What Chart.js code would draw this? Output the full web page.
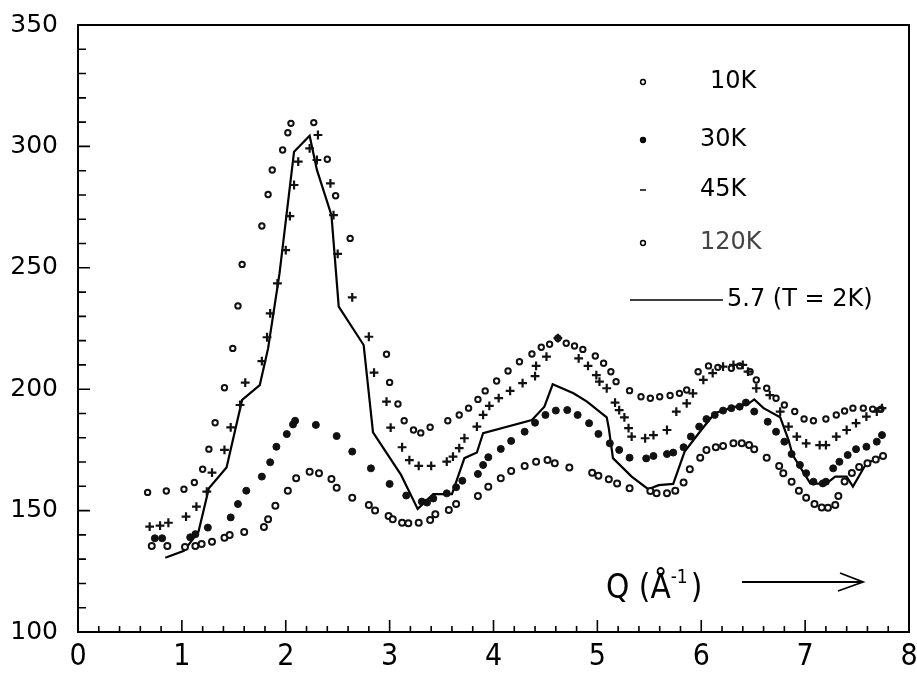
<!DOCTYPE html>
<html lang="en">
<head>
<meta charset="UTF-8">
<title>S(Q) scans</title>
<script src="https://cdn.jsdelivr.net/npm/chart.js"></script>
<style>
  html, body { margin: 0; padding: 0; background: #fff; }
  #wrap { width: 917px; height: 675px; }
</style>
</head>
<body>
<div id="wrap"><canvas id="sq-chart"></canvas></div>
<script>
// measured scans, Q in 1/A
const q10 = [0.71,0.86,1.03,1.13,1.19,1.29,1.41,1.46,1.60,1.79,1.83,1.90,2.02,2.10,2.23,2.32,2.44,2.49,2.64,2.80,2.86,2.99,3.03,3.12,3.18,3.28,3.39,3.44,3.57,3.64,3.85,3.95,4.07,4.17,4.30,4.41,4.52,4.59,4.73,4.95,5.01,5.11,5.19,5.31,5.51,5.57,5.67,5.75,5.83,5.89,5.99,6.05,6.14,6.21,6.31,6.39,6.46,6.51,6.63,6.75,6.79,6.87,6.94,7.01,7.09,7.16,7.22,7.29,7.32,7.38,7.45,7.52,7.60,7.68,7.75];
const s10 = [135.4,135.4,135,135.4,136.2,137.2,138.8,140,141.2,143.2,146.4,152,158.2,163.3,166,165.4,163,159.4,155.3,152.3,150,147.8,146.4,145,144.8,145,146.1,148.5,150.2,152.7,156,159.8,163.3,166.3,168.4,170.1,170.8,169.5,167.7,165.6,164.4,162.9,161.2,159.2,158.1,157.1,157.1,158.2,161.6,167,171.8,175,176.1,176.6,177.7,177.7,177,175.3,171.8,168.4,165.4,161.9,158.2,155.3,152.7,151.3,151.2,152.3,156,162,165.5,168,169.5,171,172.5];

const q30 = [0.74,0.81,1.08,1.13,1.25,1.47,1.54,1.62,1.77,1.85,1.91,2.01,2.07,2.09,2.29,2.49,2.64,2.82,3.00,3.16,3.31,3.36,3.42,3.55,3.64,3.70,3.85,3.90,3.95,4.07,4.17,4.30,4.40,4.50,4.60,4.71,4.81,4.92,5.01,5.12,5.21,5.31,5.47,5.54,5.67,5.73,5.83,5.90,5.98,6.05,6.13,6.21,6.29,6.37,6.43,6.51,6.64,6.72,6.80,6.87,6.95,7.01,7.08,7.17,7.20,7.27,7.33,7.41,7.49,7.59,7.69,7.74];
const s30 = [138.6,138.6,139,140.3,143,147.2,152.7,158.2,164,169.9,176.3,181.5,185.5,187,185.3,180.7,174.3,167.4,161,156.2,153.7,153.3,155,157.1,159.6,162.3,165.1,168.8,172,175.4,178.7,182.5,186.2,189.4,191.2,191.4,189.4,186,181.6,177.7,175,171.8,171.5,172.5,173.3,173.9,176.1,180.5,184.6,187.7,189.4,191.2,192.2,192.8,194.5,190.8,186.6,182.5,178.4,173.3,168.8,165.4,161.9,161.2,161.9,167.4,170.1,172.9,175.3,176.3,178.4,181.1];

const q45 = [0.69,0.79,0.87,1.04,1.14,1.24,1.29,1.41,1.47,1.56,1.61,1.77,1.82,1.85,1.92,2.00,2.04,2.08,2.12,2.23,2.31,2.30,2.43,2.46,2.50,2.64,2.80,2.85,2.97,3.01,3.12,3.19,3.28,3.40,3.55,3.61,3.67,3.72,3.84,3.90,3.96,4.05,4.16,4.28,4.40,4.41,4.51,4.62,4.82,4.91,4.99,5.02,5.09,5.17,5.21,5.26,5.30,5.33,5.46,5.54,5.67,5.76,5.86,5.92,6.02,6.11,6.21,6.31,6.40,6.45,6.53,6.66,6.76,6.84,6.92,7.01,7.14,7.20,7.30,7.40,7.49,7.59,7.69,7.74];
const s45 = [143.4,143.8,145,147.5,151.6,157.8,165.6,175,184.3,193.5,202.7,211.6,221.4,231.2,243.6,257.3,271.3,284.1,293.7,299.2,304.7,294.4,284.8,271.7,255.7,237.8,221.6,206.8,194.9,184.2,176.1,170.8,168.4,168.4,170.2,172.2,175.7,179.8,184.6,189.4,193.1,196.3,199.3,202.5,205.4,209.6,213.4,221,212.7,209.6,205.8,203.1,200.4,194.5,191.4,188.4,184,180.5,179.8,181.1,183.2,190.8,194.2,198.3,203.8,206.6,209.3,210,210,207.2,200.4,197.6,190.8,184.6,180.5,177.7,177,177,180.5,183.2,186,188.7,190.8,192.2];

const q120 = [0.67,0.85,1.02,1.12,1.20,1.26,1.32,1.41,1.49,1.54,1.58,1.77,1.83,1.87,1.97,2.02,2.05,2.27,2.40,2.48,2.62,2.97,3.00,3.08,3.14,3.23,3.30,3.39,3.56,3.67,3.76,3.85,3.92,4.03,4.14,4.25,4.37,4.46,4.54,4.62,4.70,4.78,4.86,4.98,5.06,5.13,5.18,5.31,5.42,5.51,5.60,5.70,5.79,5.86,5.97,6.07,6.16,6.29,6.37,6.47,6.53,6.63,6.72,6.80,6.90,6.99,7.08,7.20,7.30,7.38,7.46,7.56,7.65,7.73];
const s120 = [157.5,158.1,158.8,161.6,167,175.3,186.2,200.6,216.8,234.3,251.4,267.2,280.2,290.3,298.5,305.6,309.5,309.8,294.7,279.7,262.1,214.4,202.8,193.9,187,183.2,182,184.3,187,189.4,192.2,195.8,199.3,203.4,207.5,211.3,214.5,217.3,218.5,221,218.9,217.8,216.4,213.7,210.7,207.2,203.1,199.4,196.9,196.3,196.9,197.4,198.3,199.7,207.2,209.6,209,208.6,209.6,207.2,203.8,200.4,196.3,193.5,190.8,187.7,187,187.7,189.4,191,192.2,192.2,191.8,191.8];

// calculated curve, model 5.7 at T = 2K
const qCalc = [0.84,1.02,1.16,1.26,1.43,1.58,1.75,1.83,1.94,2.08,2.23,2.30,2.44,2.51,2.75,2.84,3.11,3.27,3.42,3.60,3.72,3.84,3.90,4.37,4.49,4.57,4.77,4.90,5.09,5.11,5.15,5.33,5.49,5.59,5.73,5.84,6.00,6.13,6.31,6.45,6.51,6.60,6.76,6.84,6.88,7.05,7.20,7.29,7.40,7.46,7.59,7.75];
const sCalc = [130.6,133.4,141.3,159.2,167.8,195.6,201.7,216.8,247.7,297.8,304.4,290.3,271.7,234,218.2,182.2,164.7,150.7,156.8,156.8,171.6,173.9,181.9,187.3,192.8,202,198.3,194.9,188.4,183.9,171.6,164,158.8,160.5,161,174.3,183.2,190.1,192.6,193.9,195.8,192.2,188.4,179.1,172.9,161.2,161,164,164,159.9,169.5,172.5];

const xTicks = [0, 1, 2, 3, 4, 5, 6, 7, 8];
const yTicks = [100, 150, 200, 250, 300, 350];

const pts = (xs, ys) => xs.map((v, i) => ({ x: v, y: ys[i] }));

const datasets = [
  { label: '10K', data: pts(q10, s10), pointStyle: 'circle', pointRadius: 3,
    pointBorderWidth: 2, borderColor: '#111', backgroundColor: '#fff', showLine: false },
  { label: '30K', data: pts(q30, s30), pointStyle: 'circle', pointRadius: 3.5,
    pointBorderWidth: 1, borderColor: '#111', backgroundColor: '#111', showLine: false },
  { label: '45K', data: pts(q45, s45), pointStyle: 'cross', pointRadius: 4.4,
    pointBorderWidth: 2.2, borderColor: '#111', backgroundColor: '#111', showLine: false },
  { label: '120K', data: pts(q120, s120), pointStyle: 'circle', pointRadius: 2.7,
    pointBorderWidth: 2, borderColor: '#111', backgroundColor: '#fff', showLine: false },
  { label: '5.7 (T = 2K)', data: pts(qCalc, sCalc), showLine: true, pointRadius: 0,
    borderWidth: 2.2, borderColor: '#000', tension: 0, fill: false }
];

const NARROW = '"DejaVu Sans Condensed", "Liberation Sans Narrow", sans-serif';

// frame with inward ticks, legend inside the plot, Q label with arrow
const framePlugin = {
  id: 'frame',
  afterDraw(chart) {
    const { ctx, chartArea: a, scales: { x, y } } = chart;
    ctx.save();
    ctx.strokeStyle = '#000';
    ctx.lineWidth = 2;
    ctx.strokeRect(a.left, a.top, a.right - a.left, a.bottom - a.top);

    ctx.lineWidth = 1.6;
    ctx.beginPath();
    for (let i = 1; i < 40; i++) {
      const px = x.getPixelForValue(i / 5);
      const len = i % 5 === 0 ? 12 : 6;
      ctx.moveTo(px, a.bottom);
      ctx.lineTo(px, a.bottom - len);
    }
    for (let i = 1; i < 25; i++) {
      const py = y.getPixelForValue(100 + i * 10);
      const len = i % 5 === 0 ? 12 : 8;
      ctx.moveTo(a.left, py);
      ctx.lineTo(a.left + len, py);
    }
    ctx.stroke();

    // legend
    const rows = [82, 140, 190, 243];
    const textX = [710, 700, 700, 700];
    ctx.font = '24px "DejaVu Sans", sans-serif';
    ctx.textBaseline = 'middle';
    ctx.textAlign = 'left';
    chart.data.datasets.slice(0, 4).forEach((ds, i) => {
      const mx = 643, my = rows[i];
      ctx.lineWidth = 1.5;
      ctx.strokeStyle = '#000';
      if (ds.pointStyle === 'cross') {
        ctx.beginPath();
        ctx.moveTo(mx - 3, my);
        ctx.lineTo(mx + 3, my);
        ctx.stroke();
      } else {
        ctx.beginPath();
        ctx.arc(mx, my, 2.4, 0, Math.PI * 2);
        ctx.fillStyle = ds.backgroundColor;
        ctx.fill();
        ctx.stroke();
      }
      ctx.fillStyle = i === 3 ? '#444' : '#000';
      ctx.fillText(ds.label, textX[i], my);
    });
    ctx.lineWidth = 1.5;
    ctx.strokeStyle = '#000';
    ctx.beginPath();
    ctx.moveTo(630, 300);
    ctx.lineTo(723, 300);
    ctx.stroke();
    ctx.fillStyle = '#000';
    ctx.fillText(chart.data.datasets[4].label, 727, 300);

    // axis quantity
    ctx.textBaseline = 'alphabetic';
    let tx = 606;
    const base = 598;
    ctx.font = '33px ' + NARROW;
    ctx.fillText('Q (', tx, base);
    tx += ctx.measureText('Q (').width;
    ctx.fillText('\u00C5', tx, base);
    tx += ctx.measureText('\u00C5').width;
    ctx.font = '19px ' + NARROW;
    ctx.fillText('-1', tx, base - 15);
    tx += ctx.measureText('-1').width + 3;
    ctx.font = '33px ' + NARROW;
    ctx.fillText(')', tx, base);

    ctx.lineWidth = 1.8;
    ctx.beginPath();
    ctx.moveTo(742, 582);
    ctx.lineTo(862, 582);
    ctx.moveTo(840, 573);
    ctx.lineTo(863, 582);
    ctx.lineTo(838, 591);
    ctx.stroke();
    ctx.restore();
  }
};

new Chart(document.getElementById('sq-chart'), {
  type: 'scatter',
  data: { datasets: datasets },
  plugins: [framePlugin],
  options: {
    responsive: true,
    maintainAspectRatio: false,
    animation: false,
    layout: { padding: { top: 25, right: 8, bottom: 0, left: 0 } },
    plugins: { legend: { display: false }, tooltip: { enabled: false } },
    scales: {
      x: {
        type: 'linear', min: 0, max: 8,
        grid: { display: false, drawTicks: false },
        border: { display: false },
        afterBuildTicks: s => { s.ticks = xTicks.map(v => ({ value: v })); },
        ticks: {
          color: '#000', padding: 7, maxRotation: 0,
          font: { family: NARROW, size: 30 }
        },
        afterFit: s => { s.height = 43; s.paddingLeft = 0; s.paddingRight = 0; }
      },
      y: {
        min: 100, max: 350,
        grid: { display: false, drawTicks: false },
        border: { display: false },
        afterBuildTicks: s => { s.ticks = yTicks.map(v => ({ value: v })); },
        ticks: {
          color: '#000', padding: 20,
          font: { family: '"DejaVu Sans", sans-serif', size: 25 }
        },
        afterFit: s => { s.width = 78; s.paddingTop = 0; s.paddingBottom = 0; }
      }
    }
  }
});
</script>
</body>
</html>
